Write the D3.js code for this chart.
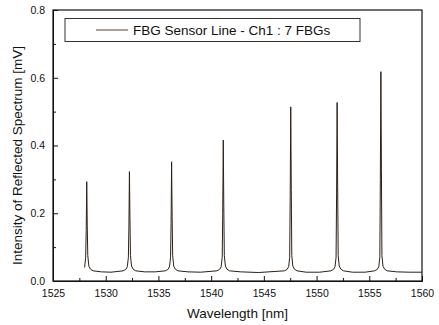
<!DOCTYPE html>
<html>
<head>
<meta charset="utf-8">
<script src="https://cdn.jsdelivr.net/npm/d3@7"></script>
<style>
  body { margin: 0; background: #fff; }
  text { font-family: "Liberation Sans", Arial, sans-serif; fill: #111; }
</style>
</head>
<body>
<div id="chart"></div>
<script>
// spectrum, grouped by FBG peak
var wavelength = [
  1528.00, 1528.10, 1528.15, 1528.20, 1528.25, 1528.30, 1528.40, 1528.55, 1528.80, 1529.60, 1530.50, 1531.65,
  1531.90, 1532.05, 1532.15, 1532.20, 1532.25, 1532.30, 1532.35, 1532.45, 1532.60, 1532.85, 1533.70, 1534.70, 1535.65,
  1535.90, 1536.05, 1536.15, 1536.20, 1536.25, 1536.30, 1536.35, 1536.45, 1536.60, 1536.85, 1537.80, 1539.00, 1540.55,
  1540.80, 1540.95, 1541.05, 1541.10, 1541.15, 1541.20, 1541.25, 1541.35, 1541.50, 1541.75, 1542.80, 1544.50, 1546.95,
  1547.20, 1547.35, 1547.45, 1547.50, 1547.55, 1547.60, 1547.65, 1547.75, 1547.90, 1548.15, 1549.00, 1550.30, 1551.35,
  1551.60, 1551.75, 1551.85, 1551.90, 1551.95, 1552.00, 1552.05, 1552.15, 1552.30, 1552.55, 1553.40, 1554.60, 1555.50,
  1555.75, 1555.90, 1556.00, 1556.05, 1556.10, 1556.15, 1556.20, 1556.30, 1556.45, 1556.70, 1557.60, 1558.80, 1560.00
];
var intensity = [
  0.040, 0.070, 0.150, 0.293, 0.160, 0.075, 0.044, 0.035, 0.030, 0.027, 0.026, 0.030,
  0.034, 0.042, 0.070, 0.160, 0.323, 0.180, 0.075, 0.044, 0.035, 0.030, 0.027, 0.027, 0.030,
  0.034, 0.042, 0.070, 0.170, 0.352, 0.190, 0.075, 0.044, 0.035, 0.030, 0.027, 0.026, 0.030,
  0.034, 0.042, 0.070, 0.200, 0.416, 0.220, 0.075, 0.044, 0.035, 0.030, 0.027, 0.025, 0.030,
  0.034, 0.042, 0.070, 0.250, 0.514, 0.270, 0.075, 0.044, 0.035, 0.030, 0.026, 0.026, 0.030,
  0.034, 0.042, 0.070, 0.260, 0.527, 0.280, 0.075, 0.044, 0.035, 0.030, 0.026, 0.026, 0.030,
  0.034, 0.042, 0.070, 0.300, 0.618, 0.330, 0.075, 0.044, 0.035, 0.030, 0.027, 0.026, 0.026
];
var xTicks = [1525, 1530, 1535, 1540, 1545, 1550, 1555, 1560];
var xMinor = [1527.5, 1532.5, 1537.5, 1542.5, 1547.5, 1552.5, 1557.5];
var yTicks = [0.0, 0.2, 0.4, 0.6, 0.8];
var yMinor = [0.1, 0.3, 0.5, 0.7];
var legendLabel = "FBG Sensor Line - Ch1 : 7 FBGs";

var width = 439, height = 325;
var margin = {top: 10, right: 17, bottom: 44, left: 53};

var x = d3.scaleLinear().domain([1525, 1560]).range([margin.left, width - margin.right]);
var y = d3.scaleLinear().domain([0, 0.8]).range([height - margin.bottom, margin.top]);

var svg = d3.select("#chart").append("svg")
    .attr("width", width)
    .attr("height", height);

var points = wavelength.map((w, i) => [w, intensity[i]]);

// spectrum
svg.append("path")
    .datum(points)
    .attr("fill", "none")
    .attr("stroke", "#2a2018")
    .attr("stroke-width", 1)
    .attr("d", d3.line().x(d => x(d[0])).y(d => y(d[1])));

// axes, ticks inside
var xAxis = svg.append("g")
    .attr("transform", `translate(0,${y(0)})`)
    .call(d3.axisBottom(x).tickValues(xTicks).tickFormat(d3.format("d")).tickSizeInner(-5).tickSizeOuter(0).tickPadding(9));
svg.append("g")
    .attr("transform", `translate(0,${y(0)})`)
    .call(d3.axisBottom(x).tickValues(xMinor).tickFormat("").tickSizeInner(-3).tickSizeOuter(0));

var yAxis = svg.append("g")
    .attr("transform", `translate(${x(1525)},0)`)
    .call(d3.axisLeft(y).tickValues(yTicks).tickFormat(d3.format(".1f")).tickSizeInner(-5).tickSizeOuter(0).tickPadding(8));
svg.append("g")
    .attr("transform", `translate(${x(1525)},0)`)
    .call(d3.axisLeft(y).tickValues(yMinor).tickFormat("").tickSizeInner(-3).tickSizeOuter(0));

svg.selectAll(".domain").attr("stroke", "#111");
svg.selectAll(".tick line").attr("stroke", "#111");
svg.selectAll(".tick text")
    .style("font-family", '"Liberation Sans", Arial, sans-serif')
    .style("font-size", "10.5px")
    .attr("fill", "#111");

// frame
svg.append("rect")
    .attr("x", x(1525))
    .attr("y", y(0.8))
    .attr("width", x(1560) - x(1525))
    .attr("height", y(0) - y(0.8))
    .attr("fill", "none")
    .attr("stroke", "#111")
    .attr("stroke-width", 1.2);

// axis titles
svg.append("text")
    .attr("x", (x(1525) + x(1560)) / 2)
    .attr("y", 318)
    .attr("text-anchor", "middle")
    .style("font-size", "13.5px")
    .text("Wavelength [nm]");

svg.append("text")
    .attr("transform", `translate(22,${(y(0) + y(0.8)) / 2 + 10}) rotate(-90)`)
    .attr("text-anchor", "middle")
    .style("font-size", "13.5px")
    .text("Intensity of Reflected Spectrum [mV]");

// legend
var legend = svg.append("g");
legend.append("rect")
    .attr("x", 65).attr("y", 18.5)
    .attr("width", 295).attr("height", 23)
    .attr("fill", "#fff")
    .attr("stroke", "#333")
    .attr("stroke-width", 1);
legend.append("line")
    .attr("x1", 96).attr("x2", 128)
    .attr("y1", 30).attr("y2", 30)
    .attr("stroke", "#5a4030")
    .attr("stroke-width", 1);
legend.append("text")
    .attr("x", 133).attr("y", 35)
    .style("font-size", "13.5px")
    .text(legendLabel);
</script>
</body>
</html>
